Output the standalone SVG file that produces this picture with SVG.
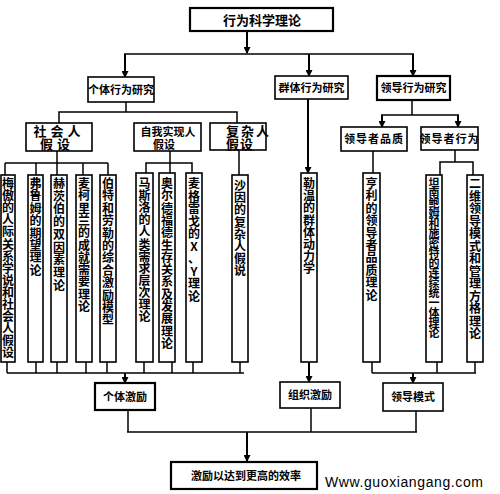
<svg xmlns="http://www.w3.org/2000/svg" width="500" height="494" viewBox="0 0 500 494">
<defs>
<marker id="ah" markerUnits="userSpaceOnUse" markerWidth="7" markerHeight="7" refX="6" refY="3.5" orient="auto"><path d="M0,0 L7,3.5 L0,7 z" fill="#000"/></marker>
<style>
.b{fill:#fff;stroke:#000;stroke-width:1.6}
.bt{fill:#fff;stroke:#000;stroke-width:2.2}
.c line,.c polyline{stroke:#000;stroke-width:1.5;fill:none}
.c .a{marker-end:url(#ah);stroke-width:2}
text{font-family:"Noto Sans CJK SC","Liberation Sans",sans-serif;fill:#000}
.h{font-size:11px;font-weight:700;text-anchor:middle}
.v{font-size:12px;font-weight:700;text-anchor:middle}
.vs{font-size:11px;font-weight:700;text-anchor:middle}
.m{font-size:13px;font-weight:700}
</style>
</defs>
<rect width="500" height="494" fill="#fff"/>
<g class="c" id="connectors">
<line class="a" x1="247" y1="31" x2="247" y2="53"/>
<line x1="124" y1="54" x2="414" y2="54"/>
<line class="a" x1="125" y1="54" x2="125" y2="77"/>
<line class="a" x1="309" y1="54" x2="309" y2="76"/>
<line class="a" x1="413" y1="54" x2="413" y2="76"/>
<line x1="126" y1="102" x2="126" y2="112"/>
<polyline points="59,123 59,112 237,112 237,123"/>
<line x1="57" y1="151" x2="57" y2="163"/>
<line x1="5" y1="163" x2="108" y2="163"/>
<line x1="5" y1="163" x2="5" y2="175"/>
<line x1="36" y1="163" x2="36" y2="175"/>
<line x1="57" y1="163" x2="57" y2="175"/>
<line x1="83" y1="163" x2="83" y2="175"/>
<line x1="108" y1="163" x2="108" y2="175"/>
<line x1="170" y1="151" x2="170" y2="163"/>
<polyline points="146,173 146,163 192,163 192,173"/>
<line x1="170" y1="163" x2="170" y2="173"/>
<line x1="239" y1="150" x2="239" y2="175"/>
<line class="a" x1="308" y1="99" x2="308" y2="173"/>
<line x1="412" y1="100" x2="412" y2="115"/>
<line x1="381" y1="115" x2="459" y2="115"/>
<line class="a" x1="382" y1="115" x2="382" y2="127"/>
<line class="a" x1="458" y1="115" x2="458" y2="127"/>
<line x1="373" y1="151" x2="373" y2="173"/>
<line x1="455" y1="150" x2="455" y2="162"/>
<polyline points="440,175 440,162 473,162 473,175"/>
<line x1="7" y1="362" x2="7" y2="373"/>
<line x1="36" y1="362" x2="36" y2="373"/>
<line x1="57" y1="362" x2="57" y2="373"/>
<line x1="86" y1="362" x2="86" y2="373"/>
<line x1="107" y1="362" x2="107" y2="373"/>
<line x1="144" y1="362" x2="144" y2="373"/>
<line x1="172" y1="362" x2="172" y2="373"/>
<line x1="193" y1="362" x2="193" y2="373"/>
<line x1="240" y1="362" x2="240" y2="373"/>
<line x1="7" y1="373" x2="244" y2="373"/>
<line class="a" x1="125" y1="373" x2="125" y2="383"/>
<line class="a" x1="309" y1="362" x2="309" y2="382"/>
<line x1="372" y1="362" x2="372" y2="373"/>
<line x1="437" y1="362" x2="437" y2="373"/>
<line x1="475" y1="362" x2="475" y2="373"/>
<line x1="372" y1="373" x2="476" y2="373"/>
<line class="a" x1="413" y1="373" x2="413" y2="383"/>
<line x1="128" y1="410" x2="128" y2="432"/>
<line x1="311" y1="408" x2="311" y2="432"/>
<line x1="416" y1="411" x2="416" y2="432"/>
<line x1="127" y1="432" x2="417" y2="432"/>
<line class="a" x1="247" y1="432" x2="247" y2="461"/>
</g>
<g id="root"><rect class="bt" x="190" y="8" width="143" height="23"/><text class="m" x="262" y="25" text-anchor="middle">行为科学理论</text></g>
<g id="indiv"><rect class="b" x="88" y="77" width="66" height="25"/><text class="h" x="121" y="94">个体行为研究</text></g>
<g id="group"><rect class="b" x="275" y="76" width="73" height="23"/><text class="h" x="311.5" y="92">群体行为研究</text></g>
<g id="lead"><rect class="bt" x="377" y="76" width="73" height="24"/><text class="h" x="413.5" y="92">领导行为研究</text></g>
<g id="social"><rect class="b" x="26" y="123" width="66" height="28"/><text class="m" x="59" y="136" text-anchor="middle" letter-spacing="4">社会人</text><text class="m" x="57" y="149" text-anchor="middle" letter-spacing="4">假设</text></g>
<g id="selfact"><rect class="b" x="134" y="123" width="67" height="28"/><text class="h" x="168" y="136" font-size="12">自我实现人</text><text class="h" x="164" y="148.5">假设</text></g>
<g id="complex"><rect class="b" x="210" y="123" width="56" height="27"/><text class="m" x="226" y="136" letter-spacing="2">复杂人</text><text class="m" x="226" y="148.5" letter-spacing="1">假设</text></g>
<g id="quality"><rect class="b" x="341" y="127" width="66" height="24"/><text class="h" x="374" y="143" letter-spacing="1">领导者品质</text></g>
<g id="behav"><rect class="b" x="421" y="127" width="57" height="23"/><text class="h" x="449.5" y="143" letter-spacing="1">领导者行为</text></g>
<g id="t1"><rect class="b" x="1" y="175" width="14" height="187"/><text class="v" y="188"><tspan x="8">梅</tspan><tspan x="8" dy="12.1">傲</tspan><tspan x="8" dy="12.1">的</tspan><tspan x="8" dy="12.1">人</tspan><tspan x="8" dy="12.1">际</tspan><tspan x="8" dy="12.1">关</tspan><tspan x="8" dy="12.1">系</tspan><tspan x="8" dy="12.1">学</tspan><tspan x="8" dy="12.1">说</tspan><tspan x="8" dy="12.1">和</tspan><tspan x="8" dy="12.1">社</tspan><tspan x="8" dy="12.1">会</tspan><tspan x="8" dy="12.1">人</tspan><tspan x="8" dy="12.1">假</tspan><tspan x="8" dy="12.1">设</tspan></text></g>
<g id="t2"><rect class="b" x="28" y="175" width="15" height="187"/><text class="v" y="188"><tspan x="35.5">弗</tspan><tspan x="35.5" dy="12.4">鲁</tspan><tspan x="35.5" dy="12.4">姆</tspan><tspan x="35.5" dy="12.4">的</tspan><tspan x="35.5" dy="12.4">期</tspan><tspan x="35.5" dy="12.4">望</tspan><tspan x="35.5" dy="12.4">理</tspan><tspan x="35.5" dy="12.4">论</tspan></text></g>
<g id="t3"><rect class="b" x="51" y="175" width="16" height="187"/><text class="v" y="188"><tspan x="59">赫</tspan><tspan x="59" dy="12.7">茨</tspan><tspan x="59" dy="12.7">伯</tspan><tspan x="59" dy="12.7">的</tspan><tspan x="59" dy="12.7">双</tspan><tspan x="59" dy="12.7">因</tspan><tspan x="59" dy="12.7">素</tspan><tspan x="59" dy="12.7">理</tspan><tspan x="59" dy="12.7">论</tspan></text></g>
<g id="t4"><rect class="b" x="76" y="175" width="16" height="187"/><text class="v" y="188"><tspan x="84">麦</tspan><tspan x="84" dy="12.3">柯</tspan><tspan x="84" dy="12.3">里</tspan><tspan x="84" dy="12.3">兰</tspan><tspan x="84" dy="12.3">的</tspan><tspan x="84" dy="12.3">成</tspan><tspan x="84" dy="12.3">就</tspan><tspan x="84" dy="12.3">需</tspan><tspan x="84" dy="12.3">要</tspan><tspan x="84" dy="12.3">理</tspan><tspan x="84" dy="12.3">论</tspan></text></g>
<g id="t5"><rect class="b" x="100" y="175" width="16" height="187"/><text class="v" y="188"><tspan x="108">伯</tspan><tspan x="108" dy="12.4">特</tspan><tspan x="108" dy="12.4">和</tspan><tspan x="108" dy="12.4">劳</tspan><tspan x="108" dy="12.4">勒</tspan><tspan x="108" dy="12.4">的</tspan><tspan x="108" dy="12.4">综</tspan><tspan x="108" dy="12.4">合</tspan><tspan x="108" dy="12.4">激</tspan><tspan x="108" dy="12.4">励</tspan><tspan x="108" dy="12.4">模</tspan><tspan x="108" dy="12.4">型</tspan></text></g>
<g id="t6"><rect class="b" x="136" y="173" width="17" height="189"/><text class="v" y="188"><tspan x="144.5">马</tspan><tspan x="144.5" dy="12.1">斯</tspan><tspan x="144.5" dy="12.1">洛</tspan><tspan x="144.5" dy="12.1">的</tspan><tspan x="144.5" dy="12.1">人</tspan><tspan x="144.5" dy="12.1">类</tspan><tspan x="144.5" dy="12.1">需</tspan><tspan x="144.5" dy="12.1">求</tspan><tspan x="144.5" dy="12.1">层</tspan><tspan x="144.5" dy="12.1">次</tspan><tspan x="144.5" dy="12.1">理</tspan><tspan x="144.5" dy="12.1">论</tspan></text></g>
<g id="t7"><rect class="b" x="159" y="173" width="16" height="189"/><text class="v" y="188"><tspan x="167">奥</tspan><tspan x="167" dy="12.3">尔</tspan><tspan x="167" dy="12.3">德</tspan><tspan x="167" dy="12.3">福</tspan><tspan x="167" dy="12.3">德</tspan><tspan x="167" dy="12.3">生</tspan><tspan x="167" dy="12.3">存</tspan><tspan x="167" dy="12.3">关</tspan><tspan x="167" dy="12.3">系</tspan><tspan x="167" dy="12.3">及</tspan><tspan x="167" dy="12.3">发</tspan><tspan x="167" dy="12.3">展</tspan><tspan x="167" dy="12.3">理</tspan><tspan x="167" dy="12.3">论</tspan></text></g>
<g id="t8"><rect class="b" x="186" y="173" width="16" height="189"/><text class="v" y="188"><tspan x="194">麦</tspan><tspan x="194" dy="12.5">格</tspan><tspan x="194" dy="12.5">雷</tspan><tspan x="194" dy="12.5">戈</tspan><tspan x="194" dy="12.5">的</tspan><tspan x="194" dy="12.5">X</tspan><tspan x="194" dy="12.5">、</tspan><tspan x="194" dy="12.5">Y</tspan><tspan x="194" dy="12.5">理</tspan><tspan x="194" dy="12.5">论</tspan></text></g>
<g id="t9"><rect class="b" x="232" y="175" width="16" height="187"/><text class="v" y="190"><tspan x="240">沙</tspan><tspan x="240" dy="12.2">因</tspan><tspan x="240" dy="12.2">的</tspan><tspan x="240" dy="12.2">复</tspan><tspan x="240" dy="12.2">杂</tspan><tspan x="240" dy="12.2">人</tspan><tspan x="240" dy="12.2">假</tspan><tspan x="240" dy="12.2">说</tspan></text></g>
<g id="t10"><rect class="b" x="301" y="173" width="16" height="189"/><text class="v" y="188"><tspan x="309">勒</tspan><tspan x="309" dy="12.2">温</tspan><tspan x="309" dy="12.2">的</tspan><tspan x="309" dy="12.2">群</tspan><tspan x="309" dy="12.2">体</tspan><tspan x="309" dy="12.2">动</tspan><tspan x="309" dy="12.2">力</tspan><tspan x="309" dy="12.2">学</tspan></text></g>
<g id="t11"><rect class="b" x="363" y="173" width="17" height="189"/><text class="v" y="188"><tspan x="371.5">亨</tspan><tspan x="371.5" dy="12.4">利</tspan><tspan x="371.5" dy="12.4">的</tspan><tspan x="371.5" dy="12.4">领</tspan><tspan x="371.5" dy="12.4">导</tspan><tspan x="371.5" dy="12.4">者</tspan><tspan x="371.5" dy="12.4">品</tspan><tspan x="371.5" dy="12.4">质</tspan><tspan x="371.5" dy="12.4">理</tspan><tspan x="371.5" dy="12.4">论</tspan></text></g>
<g id="t12"><rect class="b" x="426" y="175" width="16" height="187"/><text class="vs" y="187"><tspan x="434">坦</tspan><tspan x="434" dy="10">南</tspan><tspan x="434" dy="10">鲍</tspan><tspan x="434" dy="10">姆</tspan><tspan x="434" dy="10">和</tspan><tspan x="434" dy="10">施</tspan><tspan x="434" dy="10">密</tspan><tspan x="434" dy="10">特</tspan><tspan x="434" dy="10">的</tspan><tspan x="434" dy="10">连</tspan><tspan x="434" dy="10">续</tspan><tspan x="434" dy="10">统</tspan><tspan x="434" dy="10">一</tspan><tspan x="434" dy="10">体</tspan><tspan x="434" dy="10">理</tspan><tspan x="434" dy="10">论</tspan></text></g>
<g id="t13"><rect class="b" x="467" y="175" width="16" height="187"/><text class="v" y="188"><tspan x="475">二</tspan><tspan x="475" dy="12.5">维</tspan><tspan x="475" dy="12.5">领</tspan><tspan x="475" dy="12.5">导</tspan><tspan x="475" dy="12.5">模</tspan><tspan x="475" dy="12.5">式</tspan><tspan x="475" dy="12.5">和</tspan><tspan x="475" dy="12.5">管</tspan><tspan x="475" dy="12.5">理</tspan><tspan x="475" dy="12.5">方</tspan><tspan x="475" dy="12.5">格</tspan><tspan x="475" dy="12.5">理</tspan><tspan x="475" dy="12.5">论</tspan></text></g>
<g id="indivmot"><rect class="bt" x="95" y="383" width="60" height="27"/><text class="h" x="125" y="401" font-size="12">个体激励</text></g>
<g id="orgmot"><rect class="b" x="280" y="382" width="60" height="26"/><text class="h" x="310" y="399">组织激励</text></g>
<g id="leadmode"><rect class="b" x="383" y="383" width="60" height="28"/><text class="h" x="413" y="401">领导模式</text></g>
<g id="final"><rect class="bt" x="171" y="462" width="146" height="27"/><text class="h" x="246" y="480" font-size="12">激励以达到更高的效率</text></g>
<text x="325" y="487" font-size="14" fill="#222" textLength="158" lengthAdjust="spacing" style="font-family:'Liberation Sans',sans-serif">Www.guoxiangang.com</text>
</svg>
